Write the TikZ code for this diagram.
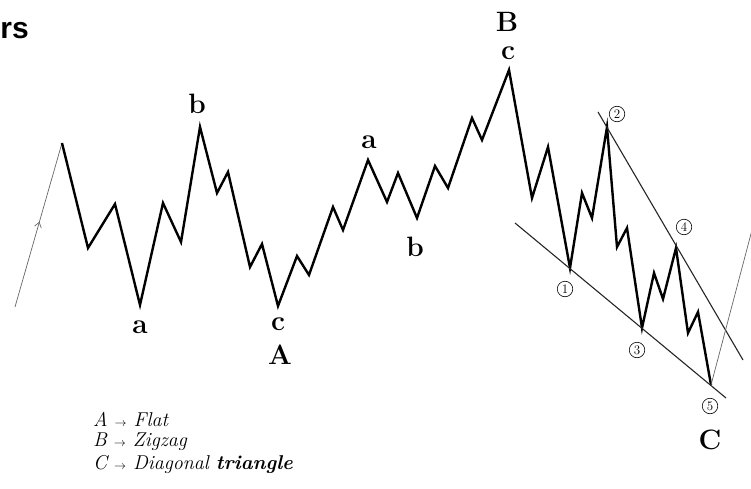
\documentclass[tikz,border=0pt]{standalone}
\usepackage{fontspec}
\newfontfamily\arialfont{Liberation Sans}
\usetikzlibrary{decorations.markings,arrows.meta}
\begin{document}
\begin{tikzpicture}[x=1pt,y=-1pt,
  wave/.style={line width=2.4pt,line join=miter,black},
  trend/.style={line width=1.1pt,black!85},
  thinline/.style={line width=0.7pt,black!60},
  lbl/.style={font=\fontsize{28}{28}\selectfont\bfseries,inner sep=0pt},
  cnum/.style={circle,draw,line width=0.6pt,inner sep=0.5pt,minimum size=15.5pt,font=\fontsize{13}{13}\selectfont},
  legend/.style={anchor=west,inner sep=0pt,font=\fontsize{20}{20}\selectfont\itshape}]
\useasboundingbox (0,0) rectangle (751,489);
% thin impulse leg with arrow
\coordinate (s0) at (15,307);
\coordinate (p0) at (62,143);
\draw[thinline,postaction={decorate},decoration={markings,mark=at position 0.52 with {\arrow{Straight Barb[length=5pt,width=7pt]}}}] (s0) -- (p0);
% main wave
\draw[wave] (p0) -- (88,248) -- (115,204) -- (140,305) coordinate (la) -- (163,203) -- (181,242) -- (200,127) coordinate (lb)
 -- (217,193) -- (228,172) -- (250,267) -- (262,244) -- (278,306) coordinate (lc)
 -- (297,256) -- (309,275) -- (333,207) -- (343,230) -- (368,160) coordinate (la2) -- (387,202) -- (398,173) -- (417,218) coordinate (lb2)
 -- (435,166) -- (448,188) -- (472,118) -- (482,140) -- (509,70) coordinate (lc2)
 -- (532,198) -- (548,147) -- (570,268) coordinate (w1) -- (582,193) -- (592,218) -- (607,127) coordinate (w2)
 -- (617,247) -- (627,228) -- (642,328) coordinate (w3) -- (654,273) -- (663,299) -- (676,248) coordinate (w4)
 -- (688,333) -- (698,312) -- (711,385) coordinate (w5);
% triangle trend lines
\coordinate (u1) at (598,112);
\coordinate (u2) at (743,360);
\coordinate (d1) at (515,223);
\coordinate (d2) at (726,398);
\draw[trend] (u1) -- (u2);
\draw[trend] (d1) -- (d2);
% next leg up
\coordinate (e1) at (752,230);
\draw[thinline] (w5) -- (e1);
% labels
\node[anchor=east,inner sep=0pt,font=\arialfont\fontsize{30}{30}\selectfont\bfseries] (rs) at (29,31) {rs};
\node[lbl] (tb) at (197,104) {b};
\node[lbl] (ta) at (140,327) {a};
\node[lbl] (tc) at (278,324) {c};
\node[lbl] (tA) at (280,355) {A};
\node[lbl] (ta2) at (369,142) {a};
\node[lbl] (tb2) at (415,247) {b};
\node[lbl] (tB) at (507,22) {B};
\node[lbl] (tc2) at (508,53) {c};
\node[lbl] (tC) at (710,440) {C};
\node[cnum] (n1) at (565,289) {1};
\node[cnum] (n2) at (617,114) {2};
\node[cnum] (n3) at (637,350) {3};
\node[cnum] (n4) at (684,227) {4};
\node[cnum] (n5) at (710,406) {5};
% legend
\node[legend] (l1) at (93,419) {A {\upshape\fontsize{12}{12}\selectfont$\rightarrow$} Flat};
\node[legend] (l2) at (93,442) {B {\upshape\fontsize{12}{12}\selectfont$\rightarrow$} Zigzag};
\node[legend] (l3) at (93,464) {C {\upshape\fontsize{12}{12}\selectfont$\rightarrow$} Diagonal \textbf{triangle}};
\end{tikzpicture}
\end{document}
